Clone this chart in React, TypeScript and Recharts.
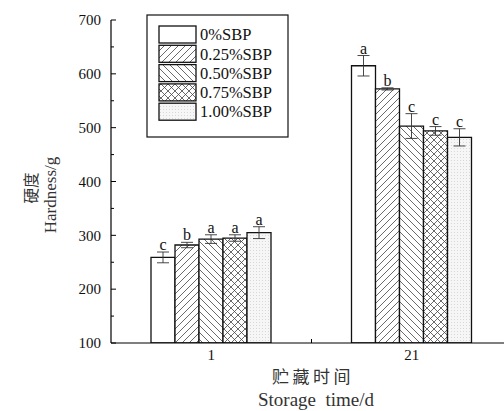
import React from 'react';
import { BarChart, Bar, XAxis, YAxis, ErrorBar, LabelList } from 'recharts';

const categories = ['1', '21'];
const seriesNames = ['0%SBP', '0.25%SBP', '0.50%SBP', '0.75%SBP', '1.00%SBP'];
const hardness0 = [259, 615];
const hardness25 = [282, 572];
const hardness50 = [293, 503];
const hardness75 = [295, 494];
const hardness100 = [305, 482];
const errors0 = [10, 19];
const errors25 = [5, 2];
const errors50 = [8, 23];
const errors75 = [6, 8];
const errors100 = [11, 16];
const letters0 = ['c', 'a'];
const letters25 = ['b', 'b'];
const letters50 = ['a', 'c'];
const letters75 = ['a', 'c'];
const letters100 = ['a', 'c'];
const yTicks = [100, 150, 200, 250, 300, 350, 400, 450, 500, 550, 600, 650, 700];
const yTitleZh = '硬度';
const yTitleEn = 'Hardness/g';
const xTitleZh = '贮藏时间';
const xTitleEn = 'Storage  time/d';

const values = [hardness0, hardness25, hardness50, hardness75, hardness100];
const errors = [errors0, errors25, errors50, errors75, errors100];
const letters = [letters0, letters25, letters50, letters75, letters100];

const data = categories.map((c, i) => {
  const row: any = { cat: c };
  values.forEach((arr, s) => {
    row['v' + s] = arr[i];
    row['e' + s] = errors[s][i];
    row['l' + s] = letters[s][i];
  });
  return row;
});

const SERIF = '"Liberation Serif", "Times New Roman", serif';
const fills = ['#ffffff', 'url(#PFX-fwd)', 'url(#PFX-back)', 'url(#PFX-cross)', 'url(#PFX-dots)'];

function Patterns({ prefix }: { prefix: string }) {
  return (
    <defs>
      <pattern id={prefix + '-fwd'} patternUnits="userSpaceOnUse" width="7" height="7">
        <rect width="7" height="7" fill="#fff" />
        <path d="M0,7 L7,0 M-1,1 L1,-1 M6,8 L8,6" stroke="#444" strokeWidth="0.8" />
      </pattern>
      <pattern id={prefix + '-back'} patternUnits="userSpaceOnUse" width="7" height="7">
        <rect width="7" height="7" fill="#fff" />
        <path d="M0,0 L7,7 M-1,6 L1,8 M6,-1 L8,1" stroke="#444" strokeWidth="0.8" />
      </pattern>
      <pattern id={prefix + '-cross'} patternUnits="userSpaceOnUse" width="7" height="7">
        <rect width="7" height="7" fill="#fff" />
        <path d="M0,7 L7,0 M-1,1 L1,-1 M6,8 L8,6 M0,0 L7,7 M-1,6 L1,8 M6,-1 L8,1" stroke="#444" strokeWidth="0.8" />
      </pattern>
      <pattern id={prefix + '-dots'} patternUnits="userSpaceOnUse" width="3" height="3">
        <rect width="3" height="3" fill="#f6f6f6" />
        <rect x="1" y="1" width="1" height="1" fill="#d8d8d8" />
      </pattern>
    </defs>
  );
}

const YTick = (props: any) => {
  const { x, y, payload } = props;
  const v = payload.value;
  const major = v % 100 === 0;
  return (
    <g>
      <line x1={x} x2={x + (major ? 5 : 3)} y1={y} y2={y} stroke="#000" strokeWidth={1} />
      {major && (
        <text x={x - 10} y={y} dy="0.35em" textAnchor="end" fontFamily={SERIF} fontSize={15} fill="#111">
          {v}
        </text>
      )}
    </g>
  );
};

const XTick = (props: any) => {
  const { x, y, payload } = props;
  const off = payload && payload.offset ? payload.offset : 0;
  return (
    <g>
      {off > 0 && <line x1={x + off} x2={x + off} y1={y} y2={y - 4} stroke="#000" strokeWidth={1} />}
      <text x={x} y={y + 17} textAnchor="middle" fontFamily={SERIF} fontSize={15} fill="#111">
        {payload.value}
      </text>
    </g>
  );
};

const makeLetter = (s: number) => (props: any) => {
  const vb = props.viewBox || {};
  const x = props.x ?? vb.x;
  const y = props.y ?? vb.y;
  const width = props.width ?? vb.width;
  const height = props.height ?? vb.height;
  const index = props.index;
  const row = data[index];
  if (!row || x == null) return null;
  const val = row['v' + s];
  const err = row['e' + s];
  const pxPer = Math.abs(height) / (val - 100);
  const capY = Math.min(y, y + height) - err * pxPer;
  return (
    <text x={x + width / 2} y={capY - 2} textAnchor="middle" fontFamily={SERIF} fontSize={16} fill="#111">
      {row['l' + s]}
    </text>
  );
};

export default function App() {
  return (
    <div style={{ position: 'absolute', left: 0, top: 0, width: 504, height: 411, overflow: 'hidden', background: '#fff' }}>
      <BarChart width={520} height={411} data={data} margin={{ top: 20, right: 8, bottom: 0, left: 0 }} barGap={0} barSize={24}>
        <Patterns prefix="PFX" />
        <XAxis dataKey="cat" height={68} tickSize={0} tickMargin={0} tick={<XTick />} axisLine={{ stroke: '#000', strokeWidth: 1.2 }} tickLine={false} interval={0} />
        <YAxis
          width={111}
          domain={[100, 700]}
          ticks={yTicks}
          interval={0}
          tickSize={0}
          tickMargin={0}
          tick={<YTick />}
          tickLine={false}
          axisLine={{ stroke: '#000', strokeWidth: 1.2 }}
          allowDataOverflow
        />
        {values.map((_, s) => (
          <Bar key={s} dataKey={'v' + s} fill={fills[s]} stroke="#111" strokeWidth={1.3} isAnimationActive={false}>
            <ErrorBar dataKey={'e' + s} width={6} stroke="#333" strokeWidth={0.9} direction="y" />
            <LabelList dataKey={'l' + s} content={makeLetter(s)} />
          </Bar>
        ))}
      </BarChart>
      <svg width={504} height={411} style={{ position: 'absolute', left: 0, top: 0, pointerEvents: 'none' }}>
        <Patterns prefix="LEG" />
        <rect x={147} y={15} width={141} height={122} fill="#fff" stroke="#111" strokeWidth={1.2} />
        {seriesNames.map((n, i) => (
          <g key={n}>
            <rect x={159} y={26 + i * 19.3} width={37} height={17} fill={fills[i].replace('PFX', 'LEG')} stroke="#111" strokeWidth={1.3} />
            <text x={200} y={34.5 + i * 19.3} dy="0.35em" fontFamily={SERIF} fontSize={16.5} fill="#111">{n}</text>
          </g>
        ))}
        <text x={30} y={188} transform="rotate(-90 30 188)" textAnchor="middle" dominantBaseline="central" fontFamily='"Noto Sans CJK SC", sans-serif' fontSize={15.5} fill="#333">
          {yTitleZh}
        </text>
        <text x={50} y={195} transform="rotate(-90 50 195)" textAnchor="middle" dominantBaseline="central" fontFamily={SERIF} fontSize={17} fill="#333">
          {yTitleEn}
        </text>
        <text x={313} y={375} textAnchor="middle" dominantBaseline="central" fontFamily='"Noto Sans CJK SC", sans-serif' fontSize={17} letterSpacing={3.5} fill="#333">
          {xTitleZh}
        </text>
        <text x={316} y={406} textAnchor="middle" fontFamily={SERIF} fontSize={19} fill="#333" style={{ whiteSpace: 'pre' }}>
          {xTitleEn}
        </text>
      </svg>
    </div>
  );
}
